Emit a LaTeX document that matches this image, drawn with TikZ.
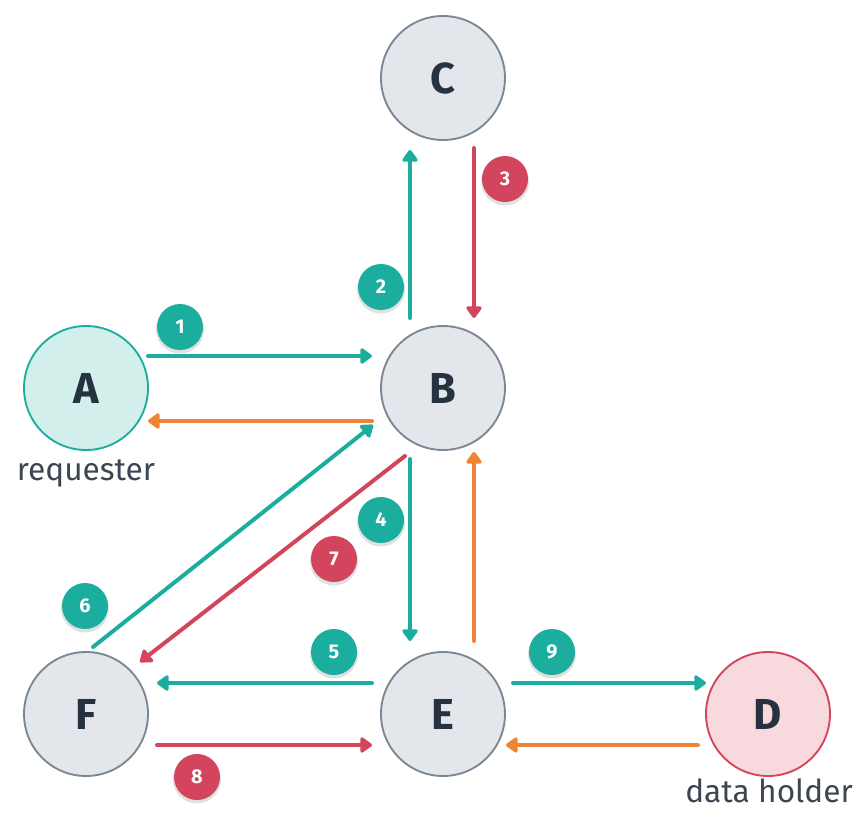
\documentclass[tikz,border=0pt]{standalone}
\usepackage{fontspec}
\setmainfont{Fira Sans}
\usetikzlibrary{arrows.meta,calc}
\definecolor{tealc}{HTML}{1BAE9E}
\definecolor{redc}{HTML}{D2455C}
\definecolor{orangec}{HTML}{EE8434}
\definecolor{grayfill}{HTML}{E3E7EB}
\definecolor{grayline}{HTML}{7B8794}
\definecolor{afill}{HTML}{D3EFEC}
\definecolor{dfill}{HTML}{F7D9DE}
\definecolor{inkc}{HTML}{26323F}
\tikzset{
  x=0.03cm, y=-0.03cm,
  circ/.style={circle, draw=grayline, fill=grayfill, line width=1.6pt, minimum size=3.72cm, inner sep=0pt,
    text=inkc, font=\fontsize{37}{40}\selectfont\bfseries},
  conn/.style={line width=3.4pt, line cap=round, -{Triangle[length=11pt,width=15pt,round]}},
  tconn/.style={conn, draw=tealc},
  rconn/.style={conn, draw=redc},
  oconn/.style={conn, draw=orangec},
  badge/.style={circle, minimum size=1.38cm, inner sep=0pt, text=white,
    font=\fontsize{17}{19}\selectfont\bfseries},
  lbl/.style={text=inkc!90, inner sep=0pt, font=\fontsize{27}{30}\selectfont}
}
\newcommand{\mybadge}[4]{%
  \fill[black, opacity=0.12] (#2+0,#3+2.5) circle (24);
  \node[badge, fill=#4] (#1) at (#2,#3) {#1};
}
\begin{document}
\begin{tikzpicture}
\useasboundingbox (0,0) rectangle (858,813);
\fill[white] (0,0) rectangle (858,813);

\node[circ] (C) at (443,78) {C};
\node[circ] (B) at (443,388) {B};
\node[circ, draw=tealc, fill=afill] (A) at (86,388) {A};
\node[circ] (F) at (86,714) {F};
\node[circ] (E) at (443,714) {E};
\node[circ, draw=redc, fill=dfill] (D) at (768,714) {D};

\node[lbl] (req) at (86,473) {requester};
\node[lbl] (dh) at (769,791) {data holder};

% connectors
\draw[tconn] ($(A)+(62,-32)$) -- ($(B)+(-71,-32)$);
\draw[oconn] ($(B)+(-71,33)$) -- ($(A)+(62,33)$);
\draw[tconn] ($(B)+(-33,-70)$) -- ($(C)+(-33,72)$);
\draw[rconn] ($(C)+(31,70)$) -- ($(B)+(31,-70)$);
\draw[tconn] ($(B)+(-33,71)$) -- ($(E)+(-33,-73)$);
\draw[oconn] ($(E)+(31,-73)$) -- ($(B)+(31,64)$);
\draw[rconn] ($(B)+(-38,68)$) -- ($(F)+(54,-52)$);
\draw[tconn] ($(F)+(7,-67)$) -- ($(B)+(-70,37)$);
\draw[tconn] ($(E)+(-71,-31)$) -- ($(F)+(71,-31)$);
\draw[rconn] ($(F)+(71,31)$) -- ($(E)+(-71,31)$);
\draw[tconn] ($(E)+(70,-31)$) -- ($(D)+(-62,-31)$);
\draw[oconn] ($(D)+(-70,31)$) -- ($(E)+(63,31)$);

% badges
\mybadge{1}{180}{327}{tealc}
\mybadge{2}{381}{287}{tealc}
\mybadge{3}{505}{179}{redc}
\mybadge{4}{381}{520}{tealc}
\mybadge{5}{334}{652}{tealc}
\mybadge{6}{85}{606}{tealc}
\mybadge{7}{334}{559}{redc}
\mybadge{8}{197}{777}{redc}
\mybadge{9}{552}{652}{tealc}
\end{tikzpicture}
\end{document}
